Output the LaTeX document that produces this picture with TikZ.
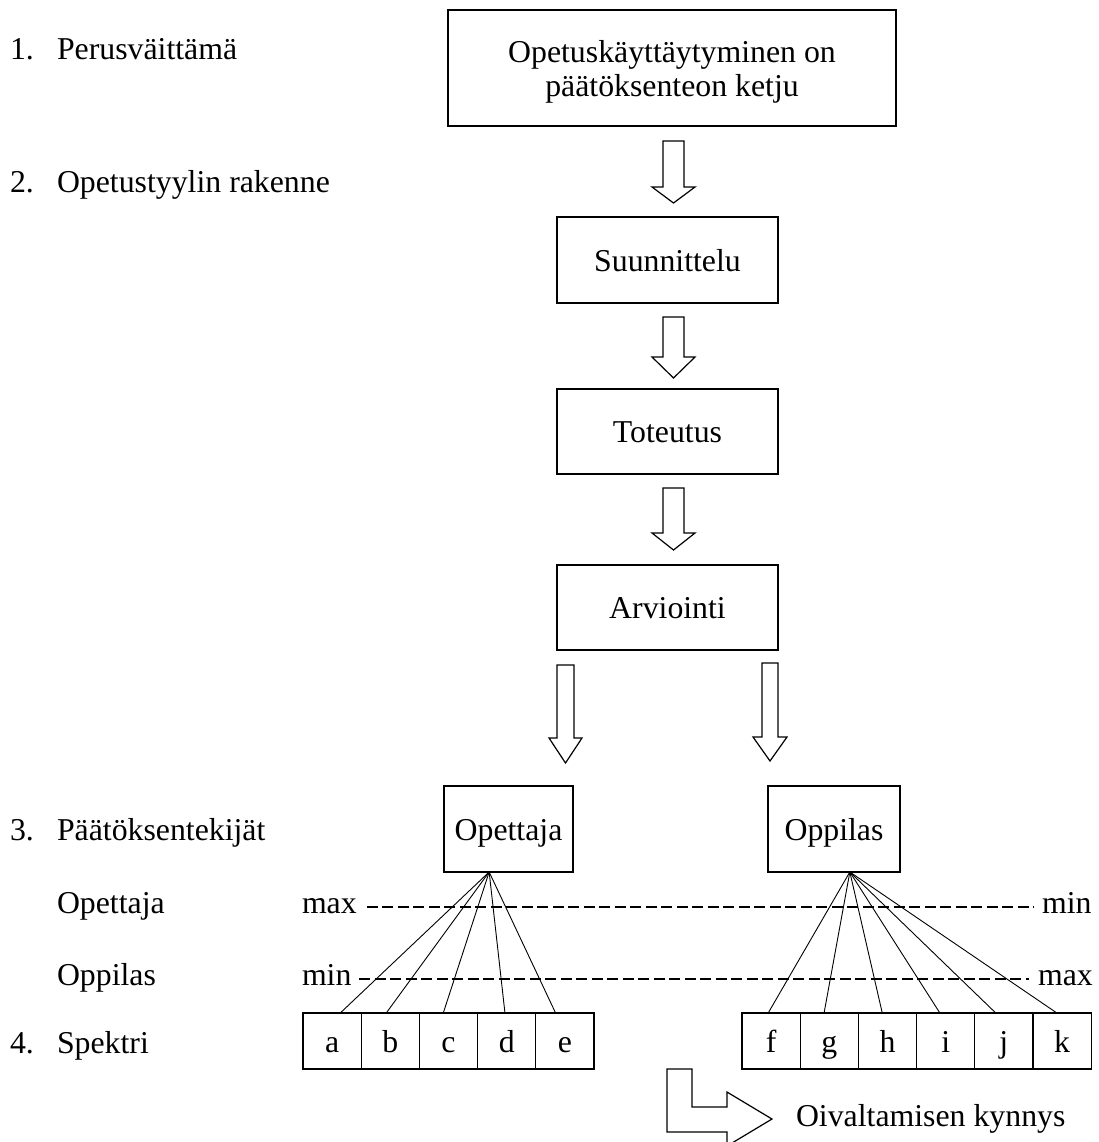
\documentclass[tikz,border=0pt]{standalone}
\usepackage{fontspec}
\setmainfont{Liberation Serif}
\usetikzlibrary{calc}
\newcommand\barrow[6]{%
  \draw[blockarr] (#1-#5,-#2) -- (#1+#5,-#2) -- (#1+#5,-#3) -- (#1+#6,-#3) -- (#1,-#4) -- (#1-#6,-#3) -- (#1-#5,-#3) -- cycle;}
\begin{document}
\begin{tikzpicture}[x=1pt,y=1pt,
  every node/.style={font=\fontsize{31.8pt}{36pt}\selectfont, inner sep=0pt, outer sep=0pt},
  box/.style={draw, line width=1.2pt, text height=27pt, text depth=5pt},
  cell/.style={draw, line width=1.2pt, minimum width=58.2pt, minimum height=56pt, text height=27pt, text depth=5pt},
  lbl/.style={anchor=base west},
  blockarr/.style={draw, line width=1.2pt, line join=miter},
  fan/.style={line width=0.9pt},
  dashline/.style={line width=2pt, dash pattern=on 11pt off 4.5pt}]
\useasboundingbox (0,0) rectangle (1099,-1142);

% left labels
\node[lbl] (n1) at (10,-60) {1.};
\node[lbl] (t1) at (57,-60) {Perusväittämä};
\node[lbl] (n2) at (10,-193) {2.};
\node[lbl] (t2) at (57,-193) {Opetustyylin rakenne};
\node[lbl] (n3) at (10,-840) {3.};
\node[lbl] (t3) at (57,-840) {Päätöksentekijät};
\node[lbl] (t3a) at (57,-913) {Opettaja};
\node[lbl] (t3b) at (57,-985) {Oppilas};
\node[lbl] (n4) at (10,-1053) {4.};
\node[lbl] (t4) at (57,-1053) {Spektri};

% top box
\node[draw, line width=1.2pt, minimum width=448pt, minimum height=116pt] (top) at (672,-68) {};
\node[anchor=base] (top1) at (672,-63) {Opetuskäyttäytyminen on};
\node[anchor=base] (top2) at (672,-97) {päätöksenteon ketju};

% chain boxes
\node[box, minimum width=221pt, minimum height=86pt] (suun) at (667.5,-260) {Suunnittelu};
\node[box, minimum width=221pt, minimum height=85pt] (tot) at (667.5,-431.5) {Toteutus};
\node[box, minimum width=221pt, minimum height=85pt] (arv) at (667.5,-607.5) {Arviointi};

\barrow{673.5}{141}{187}{203}{10.5}{21.5}
\barrow{673.5}{317}{357}{378}{10.5}{21.5}
\barrow{673.5}{488}{533}{550}{10.5}{21.5}
\barrow{565.5}{665}{738}{763}{8.5}{16.5}
\barrow{770}{663}{737}{761}{8}{17}

% decision makers
\node[box, minimum width=129pt, minimum height=86pt] (opet) at (508.5,-829) {Opettaja};
\node[box, minimum width=132pt, minimum height=86pt] (oppi) at (834,-829) {Oppilas};

% max / min scales
\node[lbl] (maxl) at (302,-913) {max};
\node[lbl] (minr) at (1042,-913) {min};
\node[lbl] (minl) at (302,-985) {min};
\node[lbl] (maxr) at (1038,-985) {max};
\draw[dashline] ([yshift=6.5pt,xshift=10pt]maxl.base east) -- ([yshift=6.5pt,xshift=-8pt]minr.base west);
\draw[dashline] ([yshift=6.5pt,xshift=8pt]minl.base east) -- ([yshift=6.5pt,xshift=-9pt]maxr.base west);

% spectrum cells
\foreach \l [count=\i from 0] in {a,b,c,d,e}{
  \node[cell] (\l) at (303+29.1+58.2*\i,-1041) {\l};
}
\foreach \l [count=\i from 0] in {f,g,h,i,j,k}{
  \node[cell] (\l) at (742+29.1+58.2*\i,-1041) {\l};
}

% fans
\coordinate (pa) at ($(opet.south west)!0.35!(opet.south east)$);
\coordinate (pb) at ($(oppi.south west)!0.62!(oppi.south east)$);
\foreach \l/\f in {a/0.64,b/0.43,c/0.41,d/0.47,e/0.34}{
  \draw[fan] (pa) -- ($(\l.north west)!\f!(\l.north east)$);
}
\foreach \l/\f in {f/0.45,g/0.41,h/0.41,i/0.40,j/0.36,k/0.41}{
  \draw[fan] (pb) -- ($(\l.north west)!\f!(\l.north east)$);
}

% bent arrow and threshold label
\draw[blockarr] (667,-1069) -- (692,-1069) -- (692,-1107) -- (727,-1107) -- (727,-1092) -- (772,-1119) -- (727,-1146) -- (727,-1132) -- (667,-1132) -- cycle;
\node[lbl] (oiv) at (796,-1126) {Oivaltamisen kynnys};
\end{tikzpicture}
\end{document}
